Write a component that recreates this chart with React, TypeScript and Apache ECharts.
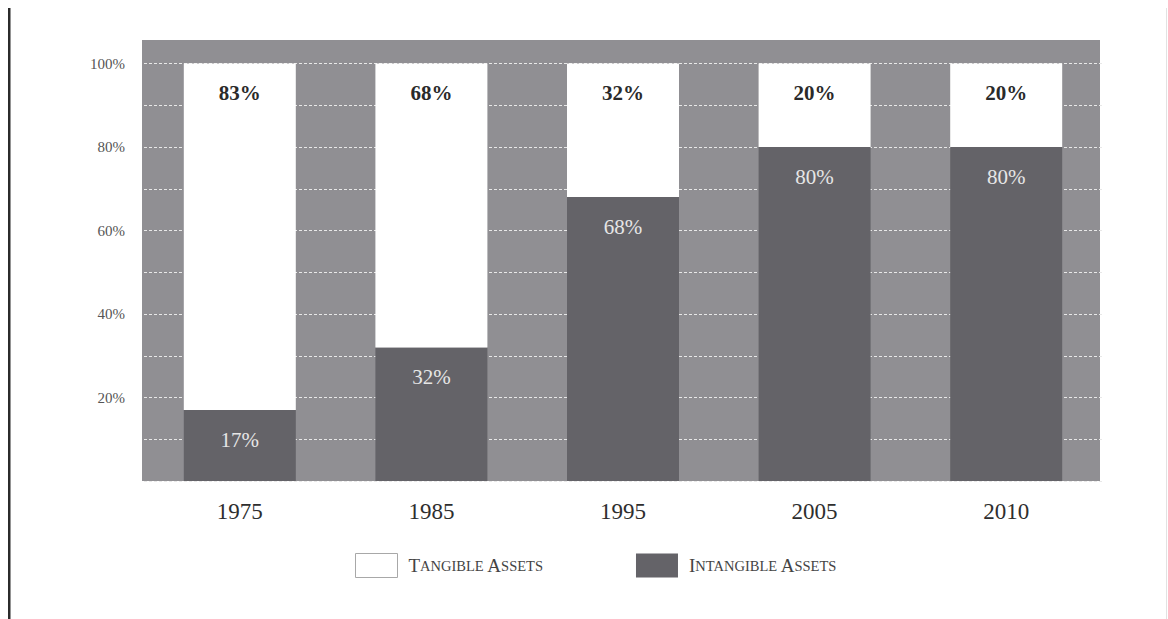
import React, { useEffect, useRef } from "react";
import * as echarts from "echarts";

const years = ["1975", "1985", "1995", "2005", "2010"];
const intangible = [17, 32, 68, 80, 80];
const tangible = [83, 68, 32, 20, 20];
const yTicks = [20, 40, 60, 80, 100];

const FONT = "'Liberation Serif', 'DejaVu Serif', serif";

export default function App() {
  const ref = useRef<HTMLDivElement>(null);
  useEffect(() => {
    if (!ref.current) return;
    const chart = echarts.init(ref.current, null, { renderer: "svg" });
    const option = {
      animation: false,
      backgroundColor: "#ffffff",
      grid: { left: 144, right: 66, top: 63.5, bottom: 138, containLabel: false },
      graphic: [
        { type: "rect", z: -10, shape: { x: 142, y: 40, width: 958, height: 441 }, style: { fill: "#908f93" }, silent: true },
        { type: "rect", shape: { x: 8, y: 8, width: 2.5, height: 611 }, style: { fill: "#2b2b2b" }, silent: true },
        { type: "rect", shape: { x: 1166, y: 8, width: 1, height: 611 }, style: { fill: "#e2e2e2" }, silent: true },
      ],
      legend: {
        left: 350,
        top: 548,
        itemWidth: 42,
        itemHeight: 24,
        itemGap: 93,
        icon: "rect",
        data: [
          { name: "Tangible Assets", itemStyle: { color: "#ffffff", borderColor: "#a8a8a8", borderWidth: 1 } },
          { name: "Intangible Assets", itemStyle: { color: "#646368" } },
        ],
        formatter: (name: string) =>
          "{sp|}" +
          name
            .split(" ")
            .map((w) => `{big|${w[0]}}{small|${w.slice(1).toUpperCase()}}`)
            .join("{small| }"),
        textStyle: {
          color: "#444",
          fontFamily: FONT,
          rich: {
            sp: { width: 6 },
            big: { fontSize: 19, color: "#444", fontFamily: FONT },
            small: { fontSize: 14.5, color: "#444", fontFamily: FONT },
          },
        },
      },
      xAxis: {
        type: "category",
        data: years,
        axisLine: { show: false },
        axisTick: { show: false },
        axisLabel: { color: "#2e2e2e", fontFamily: FONT, fontSize: 23, margin: 19 },
      },
      yAxis: {
        type: "value",
        min: 0,
        max: 100,
        interval: 10,
        axisLine: { show: false },
        axisTick: { show: false },
        axisLabel: {
          color: "#555",
          fontFamily: FONT,
          fontSize: 15,
          margin: 19,
          formatter: (v: number) => (yTicks.includes(v) ? `${v}%` : ""),
        },
        splitLine: { show: true, lineStyle: { color: "#e8e8e8", width: 1, type: [3, 2] } },
      },
      series: [
        {
          name: "Intangible Assets",
          type: "bar",
          stack: "a",
          data: intangible,
          barWidth: 112,
          itemStyle: { color: "#646368" },
          label: {
            show: true,
            position: "insideTop",
            distance: 19,
            formatter: "{c}%",
            color: "#e6e6e6",
            fontFamily: FONT,
            fontSize: 21,
          },
        },
        {
          name: "Tangible Assets",
          type: "bar",
          stack: "a",
          data: tangible,
          barWidth: 112,
          itemStyle: { color: "#ffffff" },
          label: {
            show: true,
            position: "insideTop",
            distance: 19,
            formatter: "{c}%",
            color: "#2a2a2a",
            fontWeight: "bold",
            fontFamily: FONT,
            fontSize: 21,
          },
        },
      ],
    };
    chart.setOption(option as any);
    return () => chart.dispose();
  }, []);
  return (
    <div
      ref={ref}
      style={{ position: "absolute", left: 0, top: 0, width: 1168, height: 619 }}
    />
  );
}
